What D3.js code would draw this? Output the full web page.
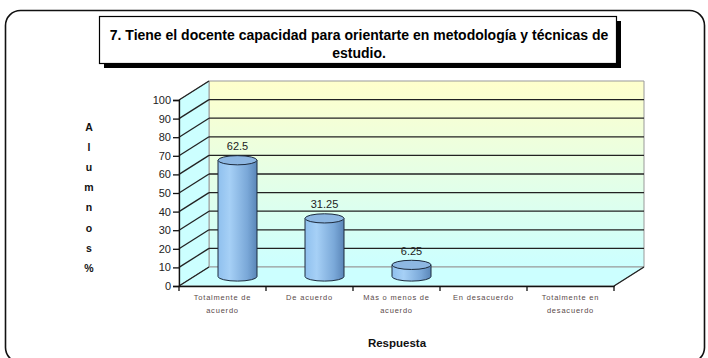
<!DOCTYPE html>
<html>
<head>
<meta charset="utf-8">
<script src="https://cdn.jsdelivr.net/npm/d3@7"></script>
<style>
  html, body { margin: 0; padding: 0; background: #fff; }
  svg { display: block; font-family: Arial, "Liberation Sans", sans-serif; }
</style>
</head>
<body>
<svg id="chart" width="708" height="358"></svg>
<script>
// Data
const categories = ["Totalmente de acuerdo", "De acuerdo", "Más o menos de acuerdo", "En desacuerdo", "Totalmente en desacuerdo"];
const categoryLines = [["Totalmente de", "acuerdo"], ["De acuerdo"], ["Más o menos de", "acuerdo"], ["En desacuerdo"], ["Totalmente en", "desacuerdo"]];
const values = [62.5, 31.25, 6.25, 0, 0];
const yTicks = [0, 10, 20, 30, 40, 50, 60, 70, 80, 90, 100];
const titleLines = ["7. Tiene el docente capacidad para orientarte en metodología y técnicas de", "estudio."];
const yTitleLetters = ["A", "l", "u", "m", "n", "o", "s", "%"];
const xTitle = "Respuesta";

const svg = d3.select("#chart");
const defs = svg.append("defs");

// Frame
svg.append("rect")
  .attr("x", 5.5).attr("y", 10.5).attr("width", 699).attr("height", 352)
  .attr("rx", 15).attr("ry", 15)
  .attr("fill", "#fff").attr("stroke", "#111").attr("stroke-width", 1.6);

// Title box with drop shadow
svg.append("rect").attr("x", 104).attr("y", 21).attr("width", 517).attr("height", 47).attr("fill", "#000");
svg.append("rect").attr("x", 99.5).attr("y", 16.5).attr("width", 517).attr("height", 47)
  .attr("fill", "#fff").attr("stroke", "#000").attr("stroke-width", 1.2);
svg.append("g").selectAll("text").data(titleLines).join("text")
  .attr("x", 359).attr("y", (d, i) => 40 + i * 18)
  .attr("text-anchor", "middle")
  .attr("font-size", 14).attr("font-weight", "bold").attr("fill", "#000")
  .text(d => d);

// Scales and 3D depth
const x = d3.scaleBand().domain(categories).range([179, 614]).paddingInner(0).paddingOuter(0);
const y = d3.scaleLinear().domain([0, 100]).range([286, 100]);
const dx = 30, dy = -19;

// Gradients
const wallGrad = defs.append("linearGradient").attr("id", "wallGrad")
  .attr("x1", 0).attr("y1", 0).attr("x2", 0).attr("y2", 1);
wallGrad.append("stop").attr("offset", "0%").attr("stop-color", "#ffffcc");
wallGrad.append("stop").attr("offset", "100%").attr("stop-color", "#ccffff");

const barGrad = defs.append("linearGradient").attr("id", "barGrad")
  .attr("x1", 0).attr("y1", 0).attr("x2", 1).attr("y2", 0);
barGrad.append("stop").attr("offset", "0%").attr("stop-color", "#8fc0ee");
barGrad.append("stop").attr("offset", "30%").attr("stop-color", "#a6d0f6");
barGrad.append("stop").attr("offset", "75%").attr("stop-color", "#7aa8d8");
barGrad.append("stop").attr("offset", "100%").attr("stop-color", "#5a86b8");

const x0 = x.range()[0], x1 = x.range()[1];
const yb0 = y(0), yTop = y(100);

// Back wall
svg.append("polygon")
  .attr("points", [[x0 + dx, yTop + dy], [x1 + dx, yTop + dy], [x1 + dx, yb0 + dy], [x0 + dx, yb0 + dy]].join(" "))
  .attr("fill", "url(#wallGrad)").attr("stroke", "#999").attr("stroke-width", 1);

// Side wall
svg.append("polygon")
  .attr("points", [[x0, yTop], [x0 + dx, yTop + dy], [x0 + dx, yb0 + dy], [x0, yb0]].join(" "))
  .attr("fill", "#ccffff").attr("stroke", "#999").attr("stroke-width", 1);

// Floor
svg.append("polygon")
  .attr("points", [[x0, yb0], [x0 + dx, yb0 + dy], [x1 + dx, yb0 + dy], [x1, yb0]].join(" "))
  .attr("fill", "#ccffff").attr("stroke", "#999").attr("stroke-width", 1);

// Gridlines on back wall and side wall
const grid = svg.append("g").attr("stroke", "#222").attr("stroke-width", 1.3);
grid.selectAll("line.back").data(yTicks.filter(t => t > 0 && t < 100)).join("line")
  .attr("class", "back")
  .attr("x1", x0 + dx).attr("x2", x1 + dx)
  .attr("y1", d => y(d) + dy).attr("y2", d => y(d) + dy);
grid.selectAll("line.side").data(yTicks).join("line")
  .attr("class", "side")
  .attr("x1", x0).attr("x2", x0 + dx)
  .attr("y1", d => y(d)).attr("y2", d => y(d) + dy);

// Floor right diagonal
svg.append("line").attr("x1", x1).attr("y1", yb0).attr("x2", x1 + dx).attr("y2", yb0 + dy)
  .attr("stroke", "#222").attr("stroke-width", 1.3);

// Y axis
const yAxis = svg.append("g").attr("transform", `translate(${x0},0)`)
  .call(d3.axisLeft(y).tickValues(yTicks).tickSize(6).tickPadding(2).tickFormat(d3.format("d")));
yAxis.select(".domain").attr("stroke", "#111").attr("stroke-width", 1.3);
yAxis.selectAll(".tick line").attr("stroke", "#111").attr("stroke-width", 1.3);
yAxis.selectAll(".tick text").attr("font-size", 11).attr("fill", "#222").attr("font-family", "Arial, 'Liberation Sans', sans-serif");

// X axis
const xAxis = svg.append("g").attr("transform", `translate(0,${yb0})`)
  .call(d3.axisBottom(x).tickValues([]).tickSizeOuter(0));
xAxis.select(".domain").attr("stroke", "#111").attr("stroke-width", 1.3);
const bounds = categories.map(c => x(c)).concat([x1]);
svg.append("g").selectAll("line").data(bounds).join("line")
  .attr("x1", d => d).attr("x2", d => d)
  .attr("y1", yb0).attr("y2", yb0 + 5)
  .attr("stroke", "#111").attr("stroke-width", 1.3);

// Category labels
const catG = svg.append("g").attr("font-size", 7.5).attr("fill", "#5a4a4a").attr("text-anchor", "middle");
categories.forEach((c, i) => {
  catG.selectAll(null).data(categoryLines[i]).join("text")
    .attr("x", x(c) + x.bandwidth() / 2)
    .attr("y", (d, j) => 300 + j * 13)
    .attr("letter-spacing", 0.8)
    .text(d => d);
});

// Cylinders at half depth
const bw = 39, rx = bw / 2, ry = 4.6;
const hx = dx / 2, hy = dy / 2;
const bars = svg.append("g");
categories.forEach((c, i) => {
  const v = values[i];
  if (!(v > 0)) return;
  const cx = x(c) + x.bandwidth() / 2 + hx;
  const yBot = y(0) + hy, yTopV = y(v) + hy;
  const body = `M${cx - rx},${yTopV} L${cx - rx},${yBot} A${rx},${ry} 0 0 0 ${cx + rx},${yBot} L${cx + rx},${yTopV} Z`;
  bars.append("path").attr("d", body)
    .attr("fill", "url(#barGrad)").attr("stroke", "#1c2a3c").attr("stroke-width", 1);
  bars.append("ellipse").attr("cx", cx).attr("cy", yTopV).attr("rx", rx).attr("ry", ry)
    .attr("fill", "#8db7e2").attr("stroke", "#1c2a3c").attr("stroke-width", 1);
  bars.append("text").attr("x", cx).attr("y", yTopV - 10)
    .attr("text-anchor", "middle").attr("font-size", 11).attr("fill", "#222")
    .text(String(v));
});

// Y axis title (stacked letters)
svg.append("g").selectAll("text").data(yTitleLetters).join("text")
  .attr("x", 89).attr("y", (d, i) => 131 + i * 20.1)
  .attr("text-anchor", "middle").attr("font-size", 10.5).attr("font-weight", "bold").attr("fill", "#111")
  .text(d => d);

// X axis title
svg.append("text").attr("x", 397).attr("y", 347)
  .attr("text-anchor", "middle").attr("font-size", 11.5).attr("font-weight", "bold").attr("fill", "#111")
  .text(xTitle);
</script>
</body>
</html>
